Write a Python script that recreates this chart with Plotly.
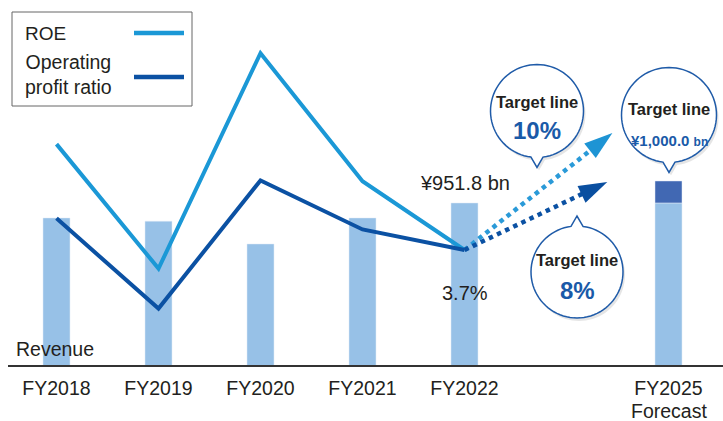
import math
import plotly.graph_objects as go

# ---------------- data ----------------
years = ["FY2018", "FY2019", "FY2020", "FY2021", "FY2022"]
forecast_label = "FY2025"
forecast_note = "Forecast"
revenue = [919, 912, 862, 919, 951.8]          # ¥ bn
revenue_forecast = 1000.0                       # ¥ bn
roe = [9.4, 2.7, 14.3, 7.4, 3.7]                # %
op_ratio = [5.7, 0.0, 8.1, 5.0, 3.7]            # %
roe_target = 10.0
op_target = 8.0

# ---------------- style / layout constants ----------------
W, H = 723, 421
ML, MR, MT, MB = 8, 0, 0, 56
PW, PH = W - ML - MR, H - MT - MB
FONT = "Liberation Sans, Arial, Helvetica, sans-serif"
TXT = "#231f20"
BAR = "#97c1e7"
BAR_DARK = "#4168b3"
ROE_C = "#1b98d6"
OP_C = "#0b51a3"
BLUE_TXT = "#1a5aa8"
BUBBLE_LINE = "#1f5ba8"

x_act = list(range(len(years)))
x_fc = len(years) + 1
arrow_x_roe = 5.45
arrow_x_op = 5.40


def pxx(x):
    return (x - ML) / PW


def pxy(y):
    return (PH - (y - MT)) / PH


fig = go.Figure()

# revenue bars
fig.add_trace(go.Bar(x=x_act, y=revenue, marker_color=BAR, width=0.265,
                     showlegend=False, hoverinfo="skip"))
fig.add_trace(go.Bar(x=[x_fc], y=[revenue[-1]], marker_color=BAR, width=0.265,
                     showlegend=False, hoverinfo="skip"))
fig.add_trace(go.Bar(x=[x_fc], y=[revenue_forecast - revenue[-1]], base=[revenue[-1]],
                     marker_color=BAR_DARK, width=0.265,
                     showlegend=False, hoverinfo="skip"))

# lines
fig.add_trace(go.Scatter(x=x_act, y=roe, mode="lines", yaxis="y2",
                         line=dict(color=ROE_C, width=4), showlegend=False))
fig.add_trace(go.Scatter(x=x_act, y=op_ratio, mode="lines", yaxis="y3",
                         line=dict(color=OP_C, width=4), showlegend=False))

# dotted target arrows
fig.add_trace(go.Scatter(x=[x_act[-1], arrow_x_roe], y=[roe[-1], roe_target],
                         mode="lines+markers", yaxis="y2",
                         line=dict(color="#2a9ad8", width=4.5, dash="dot"),
                         marker=dict(symbol="arrow", size=[0, 30], angleref="previous",
                                     color="#1e94d4", opacity=1, line=dict(width=0)),
                         showlegend=False))
fig.add_trace(go.Scatter(x=[x_act[-1], arrow_x_op], y=[op_ratio[-1], op_target],
                         mode="lines+markers", yaxis="y3",
                         line=dict(color=OP_C, width=4.5, dash="dot"),
                         marker=dict(symbol="arrow", size=[0, 30], angleref="previous",
                                     color="#0a4fa0", opacity=1, line=dict(width=0)),
                         showlegend=False))

shapes = []
annotations = []

# legend box
shapes.append(dict(type="rect", xref="paper", yref="paper",
                   x0=pxx(12), x1=pxx(192), y0=pxy(12), y1=pxy(106),
                   line=dict(color="#666666", width=1), fillcolor="white"))
shapes.append(dict(type="line", xref="paper", yref="paper",
                   x0=pxx(134), x1=pxx(184), y0=pxy(33), y1=pxy(33),
                   line=dict(color=ROE_C, width=4.5)))
shapes.append(dict(type="line", xref="paper", yref="paper",
                   x0=pxx(134), x1=pxx(184), y0=pxy(77), y1=pxy(77),
                   line=dict(color=OP_C, width=4.5)))


def text(x, y, s, size=18, color=TXT, bold=False, anchor="center", family=FONT):
    annotations.append(dict(xref="paper", yref="paper", x=pxx(x), y=pxy(y),
                            text=s, showarrow=False, xanchor=anchor, yanchor="middle",
                            font=dict(family=family, size=size, color=color,
                                      weight="bold" if bold else "normal")))


text(23, 34, "ROE", size=19, anchor="left")
text(23, 74, "Operating<br>profit ratio", size=19.5, anchor="left")
text(14, 349, "Revenue", size=19.5, anchor="left")
text(465, 183, "¥951.8 bn", size=20)
text(465, 293, "3.7%", size=20)
text(669, 411, forecast_note, size=19.5)


def bubble(cx, cy, r, tail, tip_len=10, half=6):
    d = math.asin(half / r)
    if tail == "down":
        base = math.pi / 2
        tip = (cx, cy + r + tip_len)
    else:
        base = -math.pi / 2
        tip = (cx, cy - r - tip_len)
    pts = []
    n = 80
    t0 = base + d
    t1 = base - d + 2 * math.pi
    for i in range(n + 1):
        t = t0 + (t1 - t0) * i / n
        pts.append((cx + r * math.cos(t), cy + r * math.sin(t)))
    pts.append(tip)
    return pts


def path_of(pts, dx=0, dy=0):
    s = "M " + " L ".join(f"{pxx(x + dx):.5f},{pxy(y + dy):.5f}" for x, y in pts) + " Z"
    return s


for (cx, cy, r, tail) in [(537, 111, 46.5, "down"), (669, 115, 47.5, "down"),
                          (577, 272, 46, "up")]:
    pts = bubble(cx, cy, r, tail)
    shapes.append(dict(type="path", xref="paper", yref="paper", path=path_of(pts, 2, 3),
                       fillcolor="rgba(0,0,0,0.10)", line=dict(width=0)))
    shapes.append(dict(type="path", xref="paper", yref="paper", path=path_of(pts),
                       fillcolor="white", line=dict(color=BUBBLE_LINE, width=1.5)))

text(537, 102, "Target line", size=16.5, bold=True)
text(537, 130, f"{roe_target:.0f}%", size=24, color=BLUE_TXT, bold=True)
text(669, 109, "Target line", size=16.5, bold=True)
text(669, 140, f"¥{revenue_forecast:,.1f} <span style='font-size:12px'>bn</span>",
     size=15, color=BLUE_TXT, bold=True)
text(577, 260, "Target line", size=16.5, bold=True)
text(577, 290, f"{op_target:.0f}%", size=24, color=BLUE_TXT, bold=True)

fig.update_layout(
    width=W, height=H,
    margin=dict(l=ML, r=MR, t=MT, b=MB),
    paper_bgcolor="white", plot_bgcolor="white",
    barmode="overlay",
    font=dict(family=FONT, size=19.5, color=TXT),
    showlegend=False,
    xaxis=dict(range=[(ML - 56.5) / 102, (W - MR - 56.5) / 102],
               tickvals=x_act + [x_fc], ticktext=years + [forecast_label],
               showline=True, linecolor="#333333", linewidth=2,
               ticks="outside", ticklen=5, tickcolor="rgba(0,0,0,0)",
               showgrid=False, zeroline=False, fixedrange=True),
    yaxis=dict(range=[596.8, 1396.5], visible=False, showgrid=False, fixedrange=True),
    yaxis2=dict(range=[-2.493, 17.162], overlaying="y", visible=False, showgrid=False),
    yaxis3=dict(range=[-3.572, 19.509], overlaying="y", visible=False, showgrid=False),
    shapes=shapes,
    annotations=annotations,
)

fig.write_html("out.html", config={"displayModeBar": False},
               post_script="document.body.style.margin='0';document.body.style.overflow='hidden';")
